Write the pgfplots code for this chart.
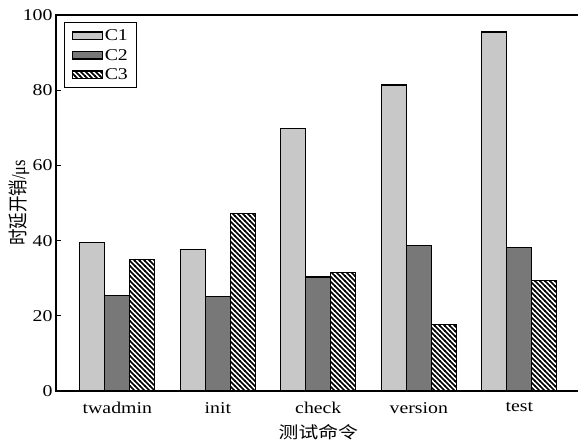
\documentclass[border=0pt]{standalone}
\usepackage{graphicx}
\usepackage{fontspec}
\setmainfont{Liberation Serif}[FakeStretch=1.2]
\newfontfamily\serifn{Liberation Serif}
\newfontfamily\cjk{Noto Sans CJK SC}[FakeStretch=1.2]
\newfontfamily\cjkn{Noto Sans CJK SC}
\usepackage{pgfplots}
\pgfplotsset{compat=1.18}
\usetikzlibrary{patterns}
\pgfdeclarepatternformonly{hatch}{\pgfqpoint{-1bp}{-1bp}}{\pgfqpoint{6bp}{6bp}}{\pgfqpoint{5bp}{5bp}}{%
  \pgfsetlinewidth{1.7bp}%
  \pgfpathmoveto{\pgfqpoint{-0.5bp}{5.5bp}}\pgfpathlineto{\pgfqpoint{5.5bp}{-0.5bp}}%
  \pgfusepath{stroke}}
\newcommand\fs{\fontsize{16.5bp}{19bp}\selectfont}
\definecolor{cA}{RGB}{200,200,200}
\definecolor{cB}{RGB}{120,120,120}
\begin{document}
\begin{tikzpicture}
\begin{axis}[
  name=ax,
  scale only axis,
  width=524.6bp, height=376bp,
  xmin=-0.61, xmax=4.61,
  ymin=0, ymax=100,
  ybar=0pt, bar width=25bp,
  xtick={0,1,2,3,4},
  xticklabels={twadmin,init,check,version,test},
  x tick style={draw=none},
  ytick={0,20,40,60,80,100},
  ytick pos=left,
  tick align=inside,
  major tick length=5bp,
  /pgf/number format/assume math mode=true,
  tick label style={font=\fs},
  xticklabel style={yshift=-8bp},
  axis line style={line width=1.1bp},
  every tick/.style={line width=1.1bp,black},
  xlabel={\cjk 测试命令},
  ylabel={\scalebox{1}[1.2]{\fs\cjkn 时延开销\serifn/μs}},
  every axis x label/.style={at={(rel axis cs:0.5,0)}, anchor=center, yshift=-41bp, font=\fs},
  every axis y label/.style={at={(rel axis cs:0,0.5)}, xshift=-37bp, rotate=90, anchor=center, font=\fs},
  legend style={at={(0.0153,0.981)}, anchor=north west, draw=black, line width=1.1bp,
    font=\fs, row sep=3bp, inner xsep=7bp, inner ysep=5bp,
    /tikz/every even column/.append style={column sep=3bp}},
  legend cell align=left,
  legend image code/.code={\draw[#1,line width=1.2bp] (0bp,-3.8bp) rectangle (30bp,3.8bp);},
]
\addplot[draw=black, line width=1.2bp, fill=cA] coordinates {(0,39.4) (1,37.7) (2,69.9) (3,81.4) (4,95.5)};
\addplot[draw=black, line width=1.2bp, fill=cB] coordinates {(0,25.3) (1,25.1) (2,30.3) (3,38.8) (4,38.1)};
\addplot[draw=black, line width=1.2bp, pattern=hatch] coordinates {(0,35.0) (1,47.3) (2,31.5) (3,17.7) (4,29.4)};
\legend{C1,C2,C3}
\end{axis}
\pgfresetboundingbox
\path ([shift={(-56bp,-55bp)}]ax.south west) rectangle ([shift={(522bp,15bp)}]ax.north west);
\end{tikzpicture}
\end{document}
